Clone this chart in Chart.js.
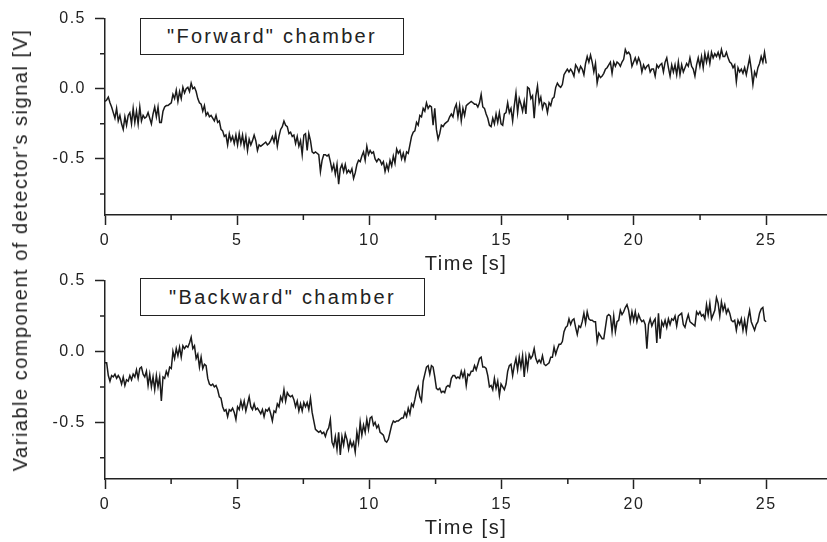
<!DOCTYPE html>
<html>
<head>
<meta charset="utf-8">
<script src="https://cdn.jsdelivr.net/npm/chart.js@4/dist/chart.umd.min.js"></script>
<style>
  body { margin: 0; background: #fff; font-family: "Liberation Sans", Arial, sans-serif; }
  #page { position: relative; width: 827px; height: 542px; overflow: hidden; }
  .panel { position: absolute; left: 0; width: 827px; }
  .tag {
    position: absolute; box-sizing: border-box; border: 1.5px solid #222;
    display: flex; align-items: center; justify-content: center;
    font-size: 20px; letter-spacing: 2.3px; color: #222; background: #fff;
  }
  #ytitle {
    position: absolute; left: 20px; top: 250px; white-space: nowrap;
    transform: translate(-50%, -50%) rotate(-90deg);
    font-size: 20px; letter-spacing: 1.5px; color: #222; line-height: 1;
  }
</style>
</head>
<body>
<div id="page">
  <div class="panel" style="top:0;height:278px"><canvas id="forwardChart"></canvas></div>
  <div class="panel" style="top:262px;height:280px"><canvas id="backwardChart"></canvas></div>
  <div class="tag" style="left:140px;top:18px;width:264px;height:37px">"Forward" chamber</div>
  <div class="tag" style="left:140px;top:278px;width:285px;height:38px">"Backward" chamber</div>
  <div id="ytitle">Variable component of detector's signal [V]</div>
</div>

<script>
// ================= DATA =================
// samples are evenly spaced from tStart to tEnd
const tStart = 0;
const tEnd = 25;

const forwardValues = [
  -0.09,-0.08,-0.06,-0.10,-0.13,-0.17,-0.21,-0.14,-0.23,-0.19,
  -0.25,-0.29,-0.20,-0.26,-0.19,-0.17,-0.25,-0.14,-0.24,-0.16,
  -0.25,-0.13,-0.23,-0.19,-0.21,-0.20,-0.17,-0.21,-0.25,-0.18,
  -0.13,-0.20,-0.13,-0.24,-0.24,-0.16,-0.13,-0.12,-0.12,-0.11,
  -0.10,-0.04,-0.07,-0.01,-0.09,-0.02,-0.07,0.01,-0.03,0.00,
  0.01,-0.02,0.04,0.00,0.01,-0.02,-0.07,-0.10,-0.11,-0.16,
  -0.12,-0.19,-0.17,-0.20,-0.19,-0.21,-0.23,-0.19,-0.24,-0.23,
  -0.29,-0.30,-0.34,-0.33,-0.40,-0.32,-0.37,-0.34,-0.39,-0.33,
  -0.40,-0.32,-0.39,-0.33,-0.41,-0.34,-0.44,-0.36,-0.40,-0.37,
  -0.33,-0.37,-0.44,-0.40,-0.41,-0.40,-0.39,-0.38,-0.40,-0.39,
  -0.37,-0.34,
  -0.38,
  -0.32,-0.41,-0.34,-0.29,-0.27,-0.23,-0.26,-0.27,-0.32,-0.31,
  -0.34,-0.33,-0.39,-0.34,-0.41,-0.37,-0.47,-0.33,-0.32,-0.44,
  -0.32,-0.37,-0.45,-0.46,-0.45,-0.46,-0.47,-0.59,-0.51,-0.47,
  -0.47,-0.48,-0.47,-0.52,-0.58,-0.54,-0.61,-0.54,-0.68,-0.57,
  -0.54,-0.59,-0.54,-0.60,-0.58,-0.60,-0.57,-0.64,-0.60,-0.54,
  -0.51,-0.52,-0.48,-0.45,-0.51,-0.41,-0.47,-0.44,-0.46,-0.45,
  -0.50,-0.52,-0.50,-0.51,-0.54,-0.52,-0.59,-0.54,-0.58,-0.51,
  -0.55,-0.48,-0.53,-0.43,-0.46,-0.44,-0.50,-0.46,-0.51,-0.45,
  -0.46,-0.40,-0.34,-0.31,-0.30,-0.24,-0.26,-0.19,-0.20,-0.14,
  -0.16,-0.10,-0.14,-0.12,-0.13,-0.26,-0.14,-0.29,-0.36,-0.32,
  -0.26,-0.27,
  -0.25,-0.24,-0.23,-0.20,-0.18,-0.20,-0.14,-0.11,-0.20,-0.12,
  -0.23,-0.14,-0.19,-0.12,-0.11,-0.10,-0.09,-0.10,-0.11,-0.11,
  -0.13,-0.10,-0.04,-0.13,-0.14,-0.18,-0.21,-0.26,-0.27,-0.21,
  -0.25,-0.18,-0.24,-0.17,-0.25,-0.26,-0.18,-0.17,-0.10,-0.17,
  -0.14,-0.23,-0.12,-0.03,-0.17,-0.07,-0.11,-0.16,-0.09,-0.18,
  0.01,0.00,-0.07,-0.05,-0.21,-0.05,0.02,-0.10,-0.06,-0.14,
  -0.10,-0.11,-0.17,-0.10,-0.12,-0.07,-0.06,0.01,0.04,0.02,
  0.01,0.03,0.10,0.12,0.14,0.12,0.14,0.12,0.09,0.17,
  0.15,0.12,0.16,0.14,0.10,0.18,0.23,0.19,0.24,0.19,
  0.12,0.18,0.04,0.10,0.08,0.09,0.11,0.14,0.15,0.17,
  0.19,0.11,
  0.19,0.16,0.19,0.18,0.16,0.19,0.21,0.28,0.25,0.26,
  0.24,0.16,0.19,0.22,0.18,0.22,0.19,0.12,0.17,0.14,
  0.16,0.17,0.12,0.14,0.14,0.09,0.17,0.15,0.17,0.18,
  0.12,0.19,0.22,0.15,0.09,0.17,0.12,0.17,0.10,0.19,
  0.10,0.17,0.12,0.15,0.18,0.16,0.22,0.16,0.14,0.09,
  0.17,0.22,0.16,0.23,0.15,0.25,0.19,0.25,0.18,0.26,
  0.22,0.25,0.23,0.26,0.22,0.28,0.23,0.23,0.26,0.22,
  0.19,0.18,0.15,0.17,0.05,0.15,0.12,0.14,0.11,0.15,
  0.10,0.16,0.22,0.14,0.03,0.12,0.09,0.15,0.18,0.23,
  0.19,0.26,0.18
];

const backwardValues = [
  -0.08,-0.08,-0.17,-0.21,-0.17,-0.18,-0.16,-0.19,-0.17,-0.19,
  -0.23,-0.18,-0.24,-0.20,-0.21,-0.17,-0.20,-0.16,-0.18,-0.13,
  -0.19,-0.12,-0.11,-0.16,-0.18,-0.14,-0.24,-0.16,-0.25,-0.18,
  -0.27,-0.17,-0.25,-0.18,-0.35,-0.18,-0.19,-0.14,-0.17,-0.11,
  -0.12,0.00,-0.05,0.02,-0.03,0.03,-0.04,0.04,0.02,0.04,
  0.03,0.06,0.10,0.02,0.04,-0.05,-0.02,-0.11,-0.04,-0.12,
  -0.09,-0.10,-0.19,-0.23,-0.24,-0.23,-0.25,-0.24,-0.27,-0.32,
  -0.33,-0.39,-0.42,-0.41,-0.46,-0.41,-0.42,-0.40,-0.43,-0.48,
  -0.39,-0.41,-0.35,-0.40,-0.35,-0.42,-0.37,-0.32,-0.39,-0.41,
  -0.37,-0.41,-0.40,-0.42,-0.44,-0.41,-0.46,-0.41,-0.42,-0.40,
  -0.44,-0.49,
  -0.42,
  -0.43,-0.37,-0.39,-0.32,-0.35,-0.27,-0.35,-0.29,-0.31,-0.32,
  -0.31,-0.34,-0.39,-0.35,-0.42,-0.37,-0.42,-0.36,-0.39,-0.36,
  -0.41,-0.33,-0.43,-0.49,-0.55,-0.56,-0.57,-0.56,-0.58,-0.57,
  -0.60,-0.56,-0.54,-0.48,-0.64,-0.67,-0.60,-0.69,-0.57,-0.73,
  -0.60,-0.66,-0.58,-0.62,-0.69,-0.63,-0.67,-0.64,-0.71,-0.57,
  -0.64,-0.50,-0.59,-0.52,-0.57,-0.48,-0.55,-0.47,-0.46,-0.52,
  -0.50,-0.54,-0.52,-0.57,-0.58,-0.59,-0.63,-0.64,-0.62,-0.57,
  -0.52,-0.49,-0.50,-0.49,-0.49,-0.48,-0.47,-0.47,-0.43,-0.46,
  -0.40,-0.44,-0.37,-0.39,-0.34,-0.28,-0.25,-0.32,-0.35,-0.21,
  -0.16,-0.11,-0.10,-0.16,-0.10,-0.11,-0.18,-0.26,-0.27,-0.26,
  -0.29,-0.28,
  -0.29,-0.25,-0.24,-0.25,-0.19,-0.17,-0.17,-0.19,-0.18,-0.19,
  -0.14,-0.18,-0.14,-0.24,-0.16,-0.17,-0.14,-0.14,-0.10,-0.13,
  -0.09,-0.05,-0.04,-0.11,-0.11,-0.12,-0.17,-0.25,-0.24,-0.27,
  -0.19,-0.26,-0.21,-0.31,-0.23,-0.25,-0.27,-0.23,-0.14,-0.10,
  -0.09,-0.17,-0.10,-0.05,-0.13,-0.04,-0.11,-0.03,-0.18,-0.04,
  -0.12,-0.02,-0.05,-0.03,0.02,-0.05,-0.08,-0.06,-0.08,-0.03,
  -0.09,-0.10,-0.09,-0.08,-0.04,-0.04,0.03,-0.02,0.02,0.05,
  0.05,0.07,0.14,0.17,0.18,0.23,0.19,0.22,0.23,0.17,
  0.12,0.18,0.17,0.21,0.27,0.20,0.28,0.23,0.22,0.22,
  0.21,0.21,0.07,0.13,0.11,0.09,0.09,0.17,0.25,0.26,
  0.25,0.14,
  0.25,0.14,0.21,0.22,0.29,0.26,0.28,0.31,0.33,0.29,
  0.21,0.28,0.22,0.28,0.21,0.26,0.23,0.21,0.22,0.19,
  0.02,0.19,0.23,0.18,0.21,0.23,0.06,0.27,0.09,0.21,
  0.18,0.22,0.17,0.23,0.19,0.23,0.22,0.25,0.18,0.25,
  0.26,0.27,0.19,0.17,0.22,0.26,0.21,0.20,0.19,0.18,
  0.28,0.26,0.28,0.25,0.26,0.23,0.33,0.26,0.34,0.23,
  0.26,0.29,0.38,0.34,0.25,0.35,0.29,0.33,0.27,0.30,
  0.27,0.22,0.21,0.22,0.15,0.22,0.19,0.23,0.15,0.22,
  0.14,0.23,0.29,0.21,0.18,0.15,0.19,0.21,0.27,0.30,
  0.31,0.22,0.21
];

// axis ranges and ticks
const xRange = [0, 27.3];
const yRange = [-0.9, 0.5];
const xMajorStep = 5;
const yMajorStep = 0.5;
const xMinorTicks = [2.5, 7.5, 12.5, 17.5, 22.5];
const yMinorTicks = [-0.75, -0.25, 0.25];

const xTitle = "Time [s]";
const INK = "#222";
const FONT = "'Liberation Sans', Arial, sans-serif";

// ================= HELPERS =================
function toPoints(values) {
  const step = (tEnd - tStart) / (values.length - 1);
  return values.map((v, i) => ({ x: tStart + i * step, y: v }));
}

// short outward minor ticks, placed through the scales
const minorTicks = {
  id: "minorTicks",
  afterDraw(chart) {
    const { ctx, chartArea, scales } = chart;
    ctx.save();
    ctx.strokeStyle = INK;
    ctx.lineWidth = 1.5;
    ctx.beginPath();
    xMinorTicks.forEach(v => {
      const px = scales.x.getPixelForValue(v);
      ctx.moveTo(px, chartArea.bottom);
      ctx.lineTo(px, chartArea.bottom + 5);
    });
    yMinorTicks.forEach(v => {
      const py = scales.y.getPixelForValue(v);
      ctx.moveTo(chartArea.left, py);
      ctx.lineTo(chartArea.left - 5, py);
    });
    ctx.stroke();
    ctx.restore();
  }
};

const spacing = {
  id: "spacing",
  beforeDraw(chart) {
    chart.ctx.letterSpacing = "1.5px";
  }
};

function makeChart(id, values, axisHeight) {
  return new Chart(document.getElementById(id), {
    type: "line",
    data: {
      datasets: [{
        data: toPoints(values),
        borderColor: "#1a1a1a",
        borderWidth: 1.5,
        pointRadius: 0,
        tension: 0
      }]
    },
    options: {
      responsive: true,
      maintainAspectRatio: false,
      animation: false,
      layout: { padding: { top: 15, left: 0, right: 0, bottom: 0 } },
      plugins: { legend: { display: false }, tooltip: { enabled: false } },
      scales: {
        x: {
          type: "linear",
          min: xRange[0],
          max: xRange[1],
          afterFit: s => { s.height = axisHeight; },
          border: { display: true, color: INK, width: 1.5 },
          grid: { drawOnChartArea: false, drawTicks: true, tickLength: 10, tickColor: INK, tickWidth: 1.5 },
          ticks: {
            stepSize: xMajorStep,
            includeBounds: false,
            maxRotation: 0,
            padding: 6,
            color: INK,
            font: { family: FONT, size: 16 }
          },
          title: {
            display: true,
            text: xTitle,
            color: INK,
            padding: { top: 0, bottom: 2 },
            font: { family: FONT, size: 20 }
          }
        },
        y: {
          min: yRange[0],
          max: yRange[1],
          afterFit: s => { s.width = 105; },
          border: { display: true, color: INK, width: 1.5 },
          grid: { drawOnChartArea: false, drawTicks: true, tickLength: 10, tickColor: INK, tickWidth: 1.5 },
          ticks: {
            stepSize: yMajorStep,
            includeBounds: false,
            padding: 9,
            color: INK,
            font: { family: FONT, size: 16 },
            callback: v => v.toFixed(1)
          }
        }
      }
    },
    plugins: [minorTicks, spacing]
  });
}

makeChart("forwardChart", forwardValues, 63);
makeChart("backwardChart", backwardValues, 63);
</script>
</body>
</html>
